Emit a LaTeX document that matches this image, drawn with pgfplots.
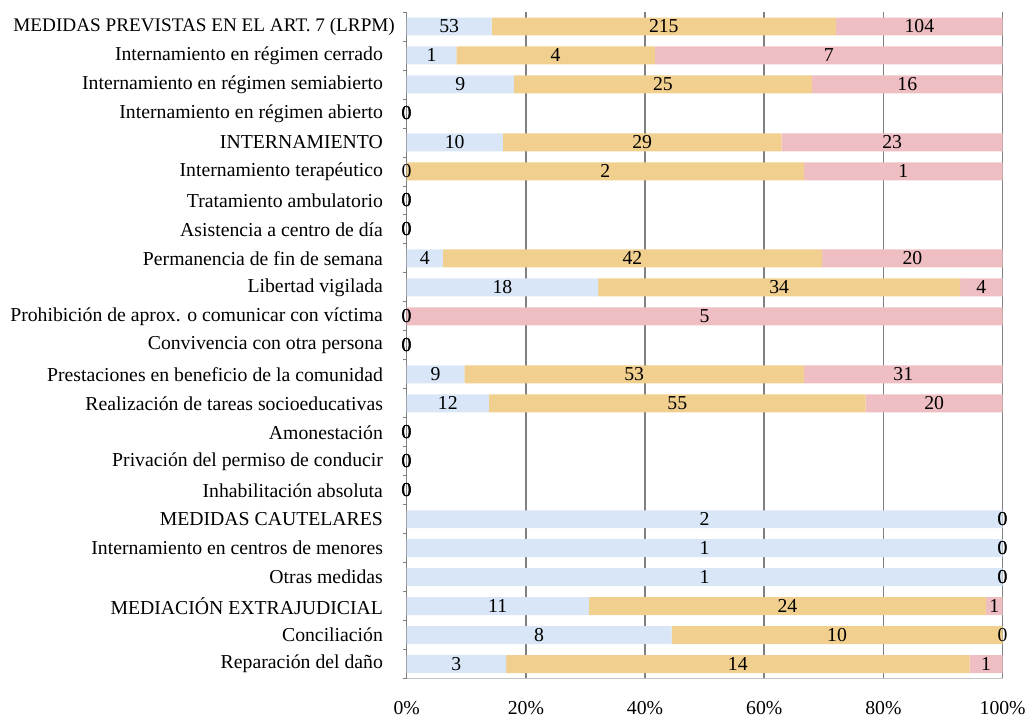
\documentclass[border=0pt]{standalone}
\usepackage{pgfplots}
\pgfplotsset{compat=1.18}
\usepackage{pgfplotstable}
\usepackage{fontspec}
\setmainfont{Liberation Serif}
\definecolor{cblue}{RGB}{216,230,247}
\definecolor{corange}{RGB}{240,207,143}
\definecolor{cpink}{RGB}{239,190,195}
\definecolor{cgrid}{RGB}{128,128,128}
\definecolor{cbot}{RGB}{196,196,196}
\newcommand\f{\fontsize{14.8pt}{17pt}\selectfont}
\pgfplotstableread{
y pb po pr nb no nr
0 14.247 57.796 27.957 53 215 104
1 8.333 33.333 58.333 1 4 7
2 18 50 32 9 25 16
3 0 0 0 0 0 0
4 16.129 46.774 37.097 10 29 23
5 0 66.667 33.333 0 2 1
6 0 0 0 0 0 0
7 0 0 0 0 0 0
8 6.061 63.636 30.303 4 42 20
9 32.143 60.714 7.143 18 34 4
10 0 0 100 0 0 5
11 0 0 0 0 0 0
12 9.677 56.989 33.333 9 53 31
13 13.793 63.218 22.989 12 55 20
14 0 0 0 0 0 0
15 0 0 0 0 0 0
16 0 0 0 0 0 0
17 100 0 0 2 0 0
18 100 0 0 1 0 0
19 100 0 0 1 0 0
20 30.556 66.667 2.778 11 24 1
21 44.444 55.556 0 8 10 0
22 16.667 77.778 5.556 3 14 1
}\data
\pgfplotsset{common/.style={
  at={(305pt,31pt)}, anchor=south west, scale only axis,
  width=447pt, height=500pt,
  xmin=0, xmax=100, ymin=-0.5, ymax=22.5, y dir=reverse}}
\begin{document}
\begin{tikzpicture}
\path[use as bounding box] (0,0) rectangle (769.5pt,540pt);
\begin{axis}[common,
  xbar stacked, bar width=0.62,
  axis x line*=bottom, axis y line*=left,
  x axis line style={draw=cbot, line width=0.8pt},
  y axis line style={draw=cgrid, line width=1pt},
  xmajorgrids, major grid style={draw=cgrid, line width=1.2pt},
  xtick={0,20,40,60,80,100},
  xticklabels={0\%,20\%,40\%,60\%,80\%,100\%},
  xtick style={draw=none},
  xticklabel style={font=\f, yshift=-9pt},
  ytick={0,...,22},
  major y tick style={draw=none},
  minor ytick={-0.5,0.5,...,22.5},
  minor y tick style={draw=cgrid, line width=0.6pt},
  minor tick length=3pt, tick align=outside,
  yticklabel style={font=\f, xshift=-10pt},
  yticklabels={{\fontsize{14.4pt}{17pt}\selectfont MEDIDAS PREVISTAS EN EL ART. 7 (LRPM)}\kern-9pt,
    Internamiento en régimen cerrado,
    Internamiento en régimen semiabierto,
    Internamiento en régimen abierto,
    INTERNAMIENTO,
    Internamiento terapéutico,
    Tratamiento ambulatorio,
    Asistencia a centro de día,
    Permanencia de fin de semana,
    Libertad vigilada,
    Prohibición de aprox. o comunicar con víctima,
    Convivencia con otra persona,
    Prestaciones en beneficio de la comunidad,
    Realización de tareas socioeducativas,
    Amonestación,
    Privación del permiso de conducir,
    Inhabilitación absoluta,
    MEDIDAS CAUTELARES,
    Internamiento en centros de menores,
    Otras medidas,
    MEDIACIÓN EXTRAJUDICIAL,
    Conciliación,
    Reparación del daño},
]
\addplot[fill=cblue, draw=none] table[x=pb, y=y]{\data};
\addplot[fill=corange, draw=none] table[x=po, y=y]{\data};
\addplot[fill=cpink, draw=none] table[x=pr, y=y]{\data};
\end{axis}
\begin{axis}[common, hide axis, clip=false,
  point meta=explicit symbolic,
  nodes near coords,
  every node near coord/.append style={anchor=center, font=\f, text=black, inner sep=0pt}]
\addplot[only marks, mark=none] table[x expr=\thisrow{pb}/2, y=y, meta=nb]{\data};
\addplot[only marks, mark=none] table[x expr=\thisrow{pb}+\thisrow{po}/2, y=y, meta=no]{\data};
\addplot[only marks, mark=none] table[x expr=\thisrow{pb}+\thisrow{po}+\thisrow{pr}/2, y=y, meta=nr]{\data};
\end{axis}
\end{tikzpicture}
\end{document}
